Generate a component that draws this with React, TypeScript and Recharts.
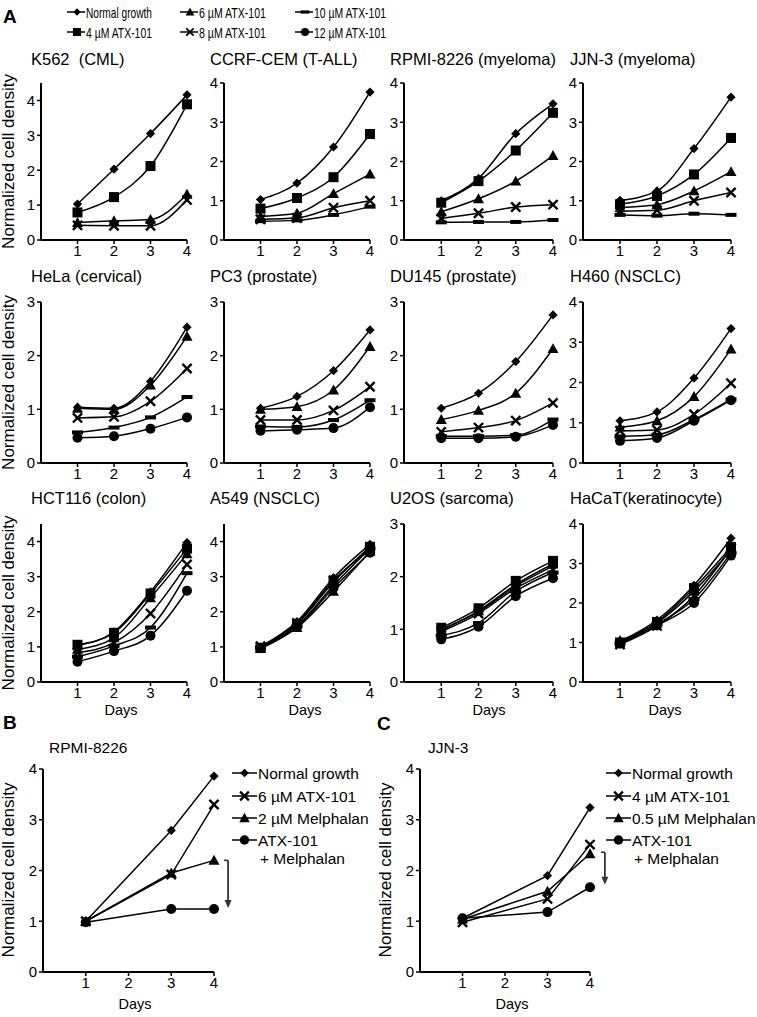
import React from "react";
import { LineChart, Line, XAxis, YAxis, ReferenceLine } from "recharts";

const FONT = "'Liberation Sans', Arial, Helvetica, sans-serif";

const days = [1, 2, 3, 4];
const comboDays = [1, 3, 4];
const xTicks = [1, 2, 3, 4];

// treatment order as in the shared legend of panel A
const treatments = ["normal", "atx4", "atx6", "atx8", "atx10", "atx12"];
const treatmentLabels = [
  "Normal growth",
  "4 µM ATX-101",
  "6 µM ATX-101",
  "8 µM ATX-101",
  "10 µM ATX-101",
  "12 µM ATX-101",
];
const treatmentMarkers = ["diamond", "square", "triangle", "cross", "dash", "circle"];

// panel A: normalized cell density, days 1-4
const k562 = {
  normal: [1.03, 2.03, 3.05, 4.16],
  atx4: [0.79, 1.23, 2.12, 3.89],
  atx6: [0.5, 0.55, 0.59, 1.31],
  atx8: [0.42, 0.41, 0.41, 1.15],
};
const ccrfCem = {
  normal: [1.03, 1.45, 2.37, 3.77],
  atx4: [0.8, 1.07, 1.6, 2.7],
  atx6: [0.6, 0.68, 1.18, 1.68],
  atx8: [0.53, 0.56, 0.82, 1.0],
  atx10: [0.48, 0.5, 0.64, 0.85],
};
const rpmi8226 = {
  normal: [1.0, 1.57, 2.71, 3.47],
  atx4: [0.95, 1.5, 2.28, 3.24],
  atx6: [0.72, 1.05, 1.5, 2.15],
  atx8: [0.55, 0.68, 0.84, 0.9],
  atx10: [0.45, 0.46, 0.46, 0.51],
};
const jjn3 = {
  normal: [1.01, 1.25, 2.33, 3.64],
  atx4: [0.91, 1.12, 1.67, 2.6],
  atx6: [0.83, 0.9, 1.25, 1.74],
  atx8: [0.74, 0.76, 1.0, 1.21],
  atx10: [0.64, 0.62, 0.67, 0.64],
};
const hela = {
  normal: [1.04, 1.02, 1.52, 2.53],
  atx6: [1.02, 1.0, 1.45, 2.36],
  atx8: [0.84, 0.86, 1.15, 1.76],
  atx10: [0.57, 0.66, 0.85, 1.23],
  atx12: [0.47, 0.5, 0.64, 0.85],
};
const pc3 = {
  normal: [1.02, 1.24, 1.72, 2.48],
  atx6: [1.0, 1.05, 1.36, 2.17],
  atx8: [0.8, 0.8, 0.98, 1.42],
  atx10: [0.68, 0.67, 0.8, 1.17],
  atx12: [0.6, 0.62, 0.65, 1.04],
};
const du145 = {
  normal: [1.02, 1.3, 1.89, 2.76],
  atx6: [0.81, 0.98, 1.3, 2.13],
  atx8: [0.58, 0.66, 0.79, 1.12],
  atx10: [0.5, 0.5, 0.52, 0.81],
  atx12: [0.46, 0.46, 0.49, 0.71],
};
const h460 = {
  normal: [1.05, 1.27, 2.11, 3.34],
  atx6: [0.89, 1.05, 1.65, 2.83],
  atx8: [0.8, 0.82, 1.21, 1.98],
  atx10: [0.66, 0.7, 1.08, 1.58],
  atx12: [0.55, 0.62, 1.05, 1.56],
};
const hct116 = {
  normal: [1.04, 1.43, 2.57, 3.97],
  atx4: [1.06, 1.4, 2.52, 3.8],
  atx6: [0.93, 1.26, 2.4, 3.65],
  atx8: [0.84, 1.12, 1.95, 3.35],
  atx10: [0.72, 1.03, 1.55, 3.1],
  atx12: [0.58, 0.88, 1.32, 2.6],
};
const a549 = {
  normal: [1.0, 1.72, 2.97, 3.92],
  atx4: [0.97, 1.65, 2.85, 3.85],
  atx6: [0.95, 1.55, 2.58, 3.72],
  atx8: [1.02, 1.68, 2.9, 3.78],
  atx10: [0.98, 1.6, 2.75, 3.8],
  atx12: [0.96, 1.57, 2.68, 3.68],
};
const u2os = {
  normal: [1.0, 1.33, 1.82, 2.2],
  atx4: [1.03, 1.4, 1.92, 2.3],
  atx6: [0.98, 1.35, 1.85, 2.24],
  atx8: [0.96, 1.3, 1.78, 2.13],
  atx10: [0.88, 1.12, 1.72, 2.08],
  atx12: [0.81, 1.05, 1.63, 1.97],
};
const hacat = {
  normal: [1.03, 1.57, 2.45, 3.64],
  atx4: [1.0, 1.52, 2.38, 3.42],
  atx6: [1.05, 1.5, 2.3, 3.35],
  atx8: [0.95, 1.42, 2.18, 3.38],
  atx10: [0.98, 1.46, 2.1, 3.27],
  atx12: [0.97, 1.43, 2.0, 3.2],
};

const panelTitles = [
  "K562\u00A0 (CML)", "CCRF-CEM (T-ALL)", "RPMI-8226 (myeloma)", "JJN-3 (myeloma)",
  "HeLa (cervical)", "PC3 (prostate)", "DU145 (prostate)", "H460 (NSCLC)",
  "HCT116 (colon)", "A549 (NSCLC)", "U2OS (sarcoma)", "HaCaT(keratinocyte)",
];
const panelData = [k562, ccrfCem, rpmi8226, jjn3, hela, pc3, du145, h460, hct116, a549, u2os, hacat];
const panelYMax = [4.5, 4, 4, 4, 3, 3, 3, 4, 4.5, 4.5, 3, 4];

// panel B / C: combination with melphalan (days 1, 3, 4)
const rpmiComboLabels = ["Normal growth", "6 µM ATX-101", "2 µM Melphalan", "ATX-101"];
const rpmiNormal = [1.0, 2.79, 3.86];
const rpmiAtx = [1.0, 1.92, 3.3];
const rpmiMelphalan = [1.0, 1.95, 2.2];
const rpmiCombo = [0.98, 1.24, 1.24];

const jjnComboLabels = ["Normal growth", "4 µM ATX-101", "0.5 µM Melphalan", "ATX-101"];
const jjnNormal = [1.06, 1.9, 3.24];
const jjnAtx = [0.98, 1.44, 2.51];
const jjnMelphalan = [1.04, 1.59, 2.33];
const jjnCombo = [1.06, 1.18, 1.67];

const comboMarkers = ["diamond", "cross", "triangle", "circle"];

// layout
const colLeft = [41, 224, 404, 583];
const colWidth = [146, 146, 149, 148];
const rowTop = [83, 302, 524];
const rowHeight = [157, 161, 158];
const titleX = [31, 210, 390, 570];
const titleBaseline = [65, 282, 504];
const daysX = [121, 305, 489, 665];
const AXW = 38;
const XAH = 24;

function Marker({ kind, cx, cy, k = 1 }: { kind: string; cx?: number; cy?: number; k?: number }) {
  if (cx == null || cy == null || isNaN(cx) || isNaN(cy)) return null;
  const f = "#000";
  switch (kind) {
    case "diamond": {
      const r = 4.6 * k;
      return <polygon points={`${cx},${cy - r} ${cx + r},${cy} ${cx},${cy + r} ${cx - r},${cy}`} fill={f} />;
    }
    case "square": {
      const r = 5 * k;
      return <rect x={cx - r} y={cy - r} width={2 * r} height={2 * r} fill={f} />;
    }
    case "triangle": {
      const r = 5.5 * k;
      return <polygon points={`${cx},${cy - r} ${cx + r},${cy + r * 0.8} ${cx - r},${cy + r * 0.8}`} fill={f} />;
    }
    case "cross": {
      const r = 4.6 * k;
      return (
        <g stroke={f} strokeWidth={2.4 * k}>
          <line x1={cx - r} y1={cy - r} x2={cx + r} y2={cy + r} />
          <line x1={cx - r} y1={cy + r} x2={cx + r} y2={cy - r} />
        </g>
      );
    }
    case "dash":
      return <rect x={cx - 5.5 * k} y={cy - 2 * k} width={11 * k} height={4 * k} fill={f} />;
    default:
      return <circle cx={cx} cy={cy} r={5 * k} fill={f} />;
  }
}

type Series = { key: string; values: number[]; marker: string };

function Panel({
  left, top, width, height, yMax, series, x, curve, extraRight = 14, children,
}: {
  left: number; top: number; width: number; height: number; yMax: number;
  series: Series[]; x: number[]; curve: "monotone" | "linear"; extraRight?: number;
  children?: React.ReactNode;
}) {
  const rows = x.map((d, i) => {
    const r: Record<string, number> = { day: d };
    series.forEach((s) => { r[s.key] = s.values[i]; });
    return r;
  });
  const yTicks = [0, 1, 2, 3, 4].filter((t) => t <= yMax);
  const tickStyle = { fill: "#000", fontSize: 15, fontFamily: FONT };
  return (
    <div style={{ position: "absolute", left: left - AXW, top: top - 10 }}>
      <LineChart
        width={AXW + width + extraRight}
        height={10 + height + XAH}
        data={rows}
        margin={{ top: 10, right: extraRight, bottom: 0, left: 0 }}
      >
        <XAxis
          dataKey="day" type="number" domain={[0, 4]} ticks={xTicks} height={XAH}
          axisLine={{ stroke: "#000", strokeWidth: 2 }} tickLine={{ stroke: "#000", strokeWidth: 1.5 }}
          tickSize={4} tickMargin={1} tick={tickStyle}
        />
        <YAxis
          type="number" domain={[0, yMax]} ticks={yTicks} width={AXW} interval={0}
          axisLine={{ stroke: "#000", strokeWidth: 2 }} tickLine={{ stroke: "#000", strokeWidth: 1.5 }}
          tickSize={4} tickMargin={2} tick={tickStyle}
        />
        {series.map((s) => (
          <Line
            key={s.key}
            dataKey={s.key}
            type={curve}
            stroke="#000"
            strokeWidth={1.5}
            isAnimationActive={false}
            activeDot={false}
            dot={(p: any) => <Marker key={`${s.key}-${p.index}`} kind={s.marker} cx={p.cx} cy={p.cy} />}
          />
        ))}
        {children}
      </LineChart>
    </div>
  );
}

function Bracket(props: any) {
  const { x1, y1, x2, y2 } = props;
  return (
    <g stroke="#333" fill="#333">
      <line x1={x1 - 4} y1={y1} x2={x1} y2={y1} strokeWidth={1.6} />
      <line x1={x1} y1={y1} x2={x2} y2={y2 - 6} strokeWidth={1.8} />
      <polygon points={`${x2 - 3.5},${y2 - 8} ${x2 + 3.5},${y2 - 8} ${x2},${y2}`} stroke="none" />
    </g>
  );
}

function ComboLegend({ x, labels }: { x: number; labels: string[] }) {
  const ys = [773, 796, 818, 840];
  return (
    <g>
      {labels.map((l, i) => (
        <g key={l}>
          <line x1={x} y1={ys[i]} x2={x + 25} y2={ys[i]} stroke="#000" strokeWidth={1.5} />
          <Marker kind={comboMarkers[i]} cx={x + 12.5} cy={ys[i]} k={0.95} />
          <text x={x + 26} y={ys[i] + 5.5} fontSize={15.5}>{l}</text>
        </g>
      ))}
      <text x={x + 28} y={858 + 5.5} fontSize={15.5}>+ Melphalan</text>
    </g>
  );
}

export default function App() {
  const legendCols = [67, 180, 295];
  const legendRows = [12, 32];
  const legendLen = [66, 66, 67, 67, 72, 72];
  return (
    <div style={{ position: "absolute", left: 0, top: 0, width: 757, height: 1017, background: "#fff", fontFamily: FONT }}>
      {panelData.map((d, i) => {
        const row = Math.floor(i / 4);
        const col = i % 4;
        const series = treatments
          .map((t, j) => ({ key: t, values: (d as Record<string, number[]>)[t], marker: treatmentMarkers[j] }))
          .filter((s) => s.values);
        return (
          <Panel
            key={panelTitles[i]}
            left={colLeft[col]} top={rowTop[row]} width={colWidth[col]} height={rowHeight[row]}
            yMax={panelYMax[i]} series={series} x={days} curve="monotone"
          />
        );
      })}

      <Panel
        left={43} top={769} width={171} height={203} yMax={4} x={comboDays} curve="linear" extraRight={30}
        series={[
          { key: "normal", values: rpmiNormal, marker: comboMarkers[0] },
          { key: "atx", values: rpmiAtx, marker: comboMarkers[1] },
          { key: "mel", values: rpmiMelphalan, marker: comboMarkers[2] },
          { key: "combo", values: rpmiCombo, marker: comboMarkers[3] },
        ]}
      >
        <ReferenceLine segment={[{ x: 4.33, y: 2.2 }, { x: 4.33, y: 1.26 }]} ifOverflow="visible" shape={Bracket} />
      </Panel>

      <Panel
        left={420} top={769} width={170} height={203} yMax={4} x={comboDays} curve="linear" extraRight={30}
        series={[
          { key: "normal", values: jjnNormal, marker: comboMarkers[0] },
          { key: "atx", values: jjnAtx, marker: comboMarkers[1] },
          { key: "mel", values: jjnMelphalan, marker: comboMarkers[2] },
          { key: "combo", values: jjnCombo, marker: comboMarkers[3] },
        ]}
      >
        <ReferenceLine segment={[{ x: 4.35, y: 2.36 }, { x: 4.35, y: 1.72 }]} ifOverflow="visible" shape={Bracket} />
      </Panel>

      <svg width={757} height={1017} style={{ position: "absolute", left: 0, top: 0, pointerEvents: "none" }} fontFamily={FONT} fill="#000">
        <text x={3} y={23} fontSize={19} fontWeight="bold">A</text>
        <text x={3} y={729} fontSize={19} fontWeight="bold">B</text>
        <text x={377} y={730} fontSize={19} fontWeight="bold">C</text>

        {[0, 2, 4, 1, 3, 5].map((t, idx) => {
          const col = idx % 3;
          const row = Math.floor(idx / 3);
          const lx = legendCols[col];
          const ly = legendRows[row];
          return (
            <g key={treatments[t]}>
              <line x1={lx} y1={ly} x2={lx + 18} y2={ly} stroke="#000" strokeWidth={1.5} />
              <Marker kind={treatmentMarkers[t]} cx={lx + 10} cy={ly} k={0.8} />
              <text x={lx + 19} y={ly + 5.5} fontSize={15} textLength={legendLen[t]} lengthAdjust="spacingAndGlyphs">
                {treatmentLabels[t]}
              </text>
            </g>
          );
        })}

        {panelTitles.map((t, i) => (
          <text key={t} x={titleX[i % 4]} y={titleBaseline[Math.floor(i / 4)]} fontSize={16.5} style={{ whiteSpace: "pre" }}>
            {t}
          </text>
        ))}

        {rowTop.map((t, r) => (
          <text key={r} transform={`translate(14, ${t + rowHeight[r] / 2}) rotate(-90)`} textAnchor="middle" fontSize={17}>
            Normalized cell density
          </text>
        ))}
        <text transform="translate(14, 870) rotate(-90)" textAnchor="middle" fontSize={17}>
          Normalized cell density
        </text>
        <text transform="translate(391, 870) rotate(-90)" textAnchor="middle" fontSize={17}>
          Normalized cell density
        </text>

        {daysX.map((x) => (
          <text key={x} x={x} y={715} textAnchor="middle" fontSize={14.5}>Days</text>
        ))}
        <text x={135} y={1009} textAnchor="middle" fontSize={14.5}>Days</text>
        <text x={512} y={1009} textAnchor="middle" fontSize={14.5}>Days</text>

        <text x={49} y={753} fontSize={15.5}>RPMI-8226</text>
        <text x={428} y={753} fontSize={15.5}>JJN-3</text>

        <ComboLegend x={232} labels={rpmiComboLabels} />
        <ComboLegend x={606} labels={jjnComboLabels} />
      </svg>
    </div>
  );
}
